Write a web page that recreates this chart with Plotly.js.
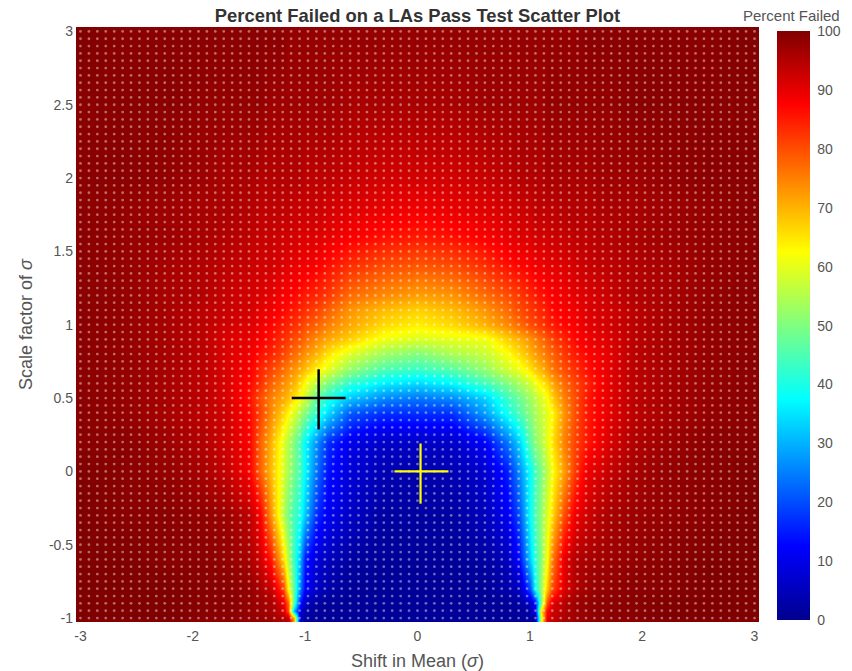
<!DOCTYPE html>
<html><head><meta charset="utf-8">
<script src="https://cdn.plot.ly/plotly-3.0.1.min.js"></script>
<style>html,body{margin:0;padding:0;background:#fff}#chart{width:852px;height:671px}</style>
</head><body><div id="chart"></div>
<script>
const shiftInMean = [-3,-2.6,-2.2,-1.9,-1.7,-1.5,-1.4,-1.3,-1.2,-1.15,-1.1,-1.05,-1,-0.9,-0.8,-0.6,-0.3,0,0.3,0.6,0.8,0.9,1,1.05,1.1,1.15,1.2,1.3,1.4,1.5,1.7,1.9,2.2,2.6,3];
const scaleFactor = [-1,-0.95,-0.9,-0.8,-0.6,-0.3,0,0.2,0.4,0.5,0.6,0.7,0.8,0.9,1,1.1,1.2,1.4,1.6,1.8,2,2.5,3];
const percentFailed = [
[100,100,100,99,99,98,98,97,95,94,70,6,2,1,1,1,1,1,1,1,1,1,2,4,60,90,93,96,97,98,99,99,100,100,100],
[100,100,100,99,99,98,97,96,92,80,30,8,3,1,1,1,1,1,1,1,1,1,3,10,65,87,92,95,97,98,99,99,100,100,100],
[100,100,100,99,99,98,97,96,90,78,45,15,6,2,1,1,1,1,1,1,1,2,6,14,50,80,90,95,97,98,99,99,100,100,100],
[100,100,100,99,99,98,96,93,82,63,46,25,12,6,3,1,1,1,1,1,3,5,20,38,53,68,80,91,95,97,98,99,99,100,100],
[100,100,99,99,98,96,92,85,67,55,43,30,15,8,5,2,1,1,1,2,5,13,33,42,51,62,75,90,95,96,97,98,99,100,100],
[100,99,99,98,97,94,88,73,56,49,44,40,32,17,11,6,2,2,2,5,11,20,38,45,52,59,66,80,89,92,96,97,98,99,100],
[100,99,98,96,93,88,78,69,59,54,49,44,37,24,14,8,4,3,4,7,15,26,38,44,50,56,62,72,82,89,93,96,98,99,100],
[99,99,97,95,92,88,78,70,60,55,50,44,37,27,17,10,6,6,6,12,24,33,46,51,55,60,65,75,81,85,91,95,97,99,99],
[99,98,96,94,92,87,81,74,67,63,59,54,50,42,34,21,17,17,17,28,39,45,51,54,57,60,63,73,80,85,90,94,96,98,99],
[99,98,96,94,91,86,80,75,71,69,65,62,58,47,40,32,26,24,26,33,43,48,53,56,59,62,67,75,80,85,90,94,96,98,99],
[99,98,96,94,91,87,83,78,74,72,70,66,62,56,50,42,36,34,37,44,50,54,58,61,64,67,71,77,81,84,90,94,96,98,99],
[99,98,96,94,91,88,84,81,77,75,73,71,69,64,60,52,45,43,46,52,58,61,65,68,70,73,76,80,83,86,90,94,96,98,99],
[99,98,96,94,91,89,86,84,81,79,77,75,73,70,65,59,53,50,54,57,62,66,70,72,74,76,78,82,85,87,90,94,96,98,99],
[99,98,96,94,91,90,88,86,83,82,80,79,77,74,71,67,61,59,60,61,67,70,73,75,77,79,81,84,87,89,91,94,96,98,99],
[99,98,96,94,92,91,89,87,85,84,83,82,80,78,75,71,66,64,66,70,74,77,80,81,82,84,85,87,88,90,92,94,96,98,99],
[99,98,96,94,93,92,90,89,87,86,85,84,83,81,78,73,69,67,69,73,77,80,82,83,84,85,87,88,89,91,92,94,96,98,99],
[99,98,96,95,93,92,91,90,88,88,87,86,85,84,82,77,74,72,73,77,80,82,84,85,86,87,88,89,90,91,93,95,96,98,99],
[99,98,96,95,94,93,92,92,91,90,90,89,89,88,86,83,80,79,80,83,86,87,88,89,89,90,90,91,92,93,94,95,96,98,99],
[99,98,97,96,95,94,93,93,92,92,92,91,91,91,90,88,86,85,86,88,90,91,91,92,92,92,93,93,94,94,95,96,97,98,99],
[99,98,97,96,96,95,94,94,94,94,93,93,93,93,92,91,90,89,90,91,92,93,93,94,94,94,94,95,95,95,96,96,97,98,99],
[99,99,98,97,96,96,95,95,95,95,95,95,94,94,94,93,92,92,92,93,94,95,95,95,95,96,96,96,96,96,97,97,98,99,99],
[99,99,99,98,98,98,98,97,97,97,97,97,97,97,97,96,96,96,96,97,97,97,97,97,97,98,98,98,98,98,98,99,99,99,99],
[100,99,99,99,99,99,99,99,99,98,98,98,98,98,98,98,98,98,98,98,98,98,98,98,98,98,98,98,98,99,99,99,99,99,100]
];
const sampleStepX = 0.075, sampleStepY = 0.05, sampleCount = 81;
const blackCrossX = [-1.12,-0.64,null,-0.88,-0.88];
const blackCrossY = [0.5,0.5,null,0.696,0.286];
const yellowCrossX = [-0.205,0.276,null,0.027,0.027];
const yellowCrossY = [0,0,null,0.19,-0.22];
const xTicks = [-3,-2,-1,0,1,2,3];
const xTickText = ['-3','-2','-1','0','1','2','3'];
const yTicks = [-1,-0.5,0,0.5,1,1.5,2,2.5,3];
const yTickText = ['-1','-0.5','0','0.5','1','1.5','2','2.5','3'];
const cbTicks = [0,10,20,30,40,50,60,70,80,90,100];

const jet = [[0,'#00008f'],[0.125,'#0000ff'],[0.375,'#00ffff'],[0.625,'#ffff00'],[0.875,'#ff0000'],[1,'#800000']];
const gray = '#555555', fam = 'Liberation Sans, Arial, sans-serif';

const gridX = [], gridY = [];
for (let i = 0; i < sampleCount; i++) for (let j = 0; j < sampleCount; j++) {
  gridX.push(-3 + i * sampleStepX); gridY.push(-1 + j * sampleStepY);
}

const traces = [
 {type:'heatmap', x:shiftInMean, y:scaleFactor, z:percentFailed, zmin:0, zmax:100, zsmooth:'best',
  colorscale:jet, hoverinfo:'skip',
  colorbar:{thickness:33, thicknessmode:'pixels', len:589, lenmode:'pixels', x:1.025, xanchor:'left', xpad:0,
    y:0.498, yanchor:'middle', ypad:0, outlinewidth:0, ticks:'outside', ticklen:5, tickcolor:'rgba(0,0,0,0)',
    tickmode:'array', tickvals:cbTicks,
    ticktext:cbTicks.map(String), tickfont:{family:fam,size:14,color:gray}}},
 {type:'scatter', mode:'markers', x:gridX, y:gridY, hoverinfo:'skip', showlegend:false,
  marker:{size:2.8, color:'#ffffff', opacity:0.42, line:{width:0}}},
 {type:'scatter', mode:'lines', x:blackCrossX, y:blackCrossY, hoverinfo:'skip', showlegend:false,
  line:{color:'#000000', width:2.5}},
 {type:'scatter', mode:'lines', x:yellowCrossX, y:yellowCrossY, hoverinfo:'skip', showlegend:false,
  line:{color:'#ffff00', width:2.2}}
];
const layout = {
 width:852, height:671, paper_bgcolor:'#fff', plot_bgcolor:'#fff', showlegend:false,
 margin:{l:76, r:92, t:27, b:49, pad:0},
 font:{family:fam, color:gray},
 title:{text:'<b>Percent Failed on a LAs Pass Test Scatter Plot</b>', x:0.5, xanchor:'center', xref:'paper',
   y:1-16/671, yanchor:'middle', font:{family:fam, size:18.4, color:'#333333'}},
 xaxis:{range:[-3.04,3.04], tickmode:'array', tickvals:xTicks, ticktext:xTickText, ticks:'', showgrid:false,
   zeroline:false, showline:false, ticklabelstandoff:4, tickfont:{family:fam,size:14,color:gray},
   title:{text:'Shift in Mean (<i>σ</i>)', font:{family:fam,size:18,color:gray}, standoff:14}},
 yaxis:{range:[-1.027,3.03], tickmode:'array', tickvals:yTicks, ticktext:yTickText, ticks:'', showgrid:false,
   zeroline:false, showline:false, ticklabelstandoff:2, tickfont:{family:fam,size:14,color:gray},
   title:{text:'Scale factor of <i>σ</i>', font:{family:fam,size:18,color:gray}, standoff:11}},
 annotations:[{text:'Percent Failed', xref:'paper', yref:'paper', x:(793-76)/684, y:1+(27-15)/595, xanchor:'center', yanchor:'middle',
   showarrow:false, font:{family:fam,size:15,color:gray}}]
};
Plotly.newPlot('chart', traces, layout, {displayModeBar:false, staticPlot:true});
</script></body></html>
